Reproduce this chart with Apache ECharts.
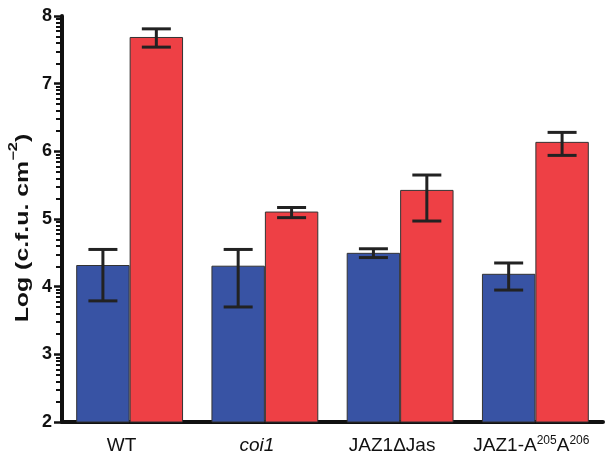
<!DOCTYPE html>
<html>
<head>
<meta charset="utf-8">
<script src="https://cdn.jsdelivr.net/npm/echarts@6/dist/echarts.min.js"></script>
<style>html,body{margin:0;padding:0;background:#fff}#c{width:606px;height:456px}</style>
</head>
<body>
<div id="c"></div>
<script>
// ---- data ----
var categories = ['WT', 'coi1', 'JAZ1\u0394Jas', 'JAZ1-A205A206'];
var mockValues = [4.32, 4.31, 4.50, 4.19];
var mockLow    = [3.79, 3.70, 4.43, 3.95];
var mockHigh   = [4.55, 4.55, 4.56, 4.35];
var infValues  = [7.69, 5.11, 5.43, 6.14];
var infLow     = [7.54, 5.02, 4.97, 5.94];
var infHigh    = [7.81, 5.17, 5.65, 6.28];
var majorTicks = [2, 3, 4, 5, 6, 7, 8];
var minorMultipliers = [2, 3, 4, 5, 6, 7, 8, 9];

var minorTicks = [];
for (var d = 2; d < 8; d++) {
  minorMultipliers.forEach(function (k) { minorTicks.push(d + Math.log10(k)); });
}

var errData = [];
categories.forEach(function (c, i) {
  errData.push([i, mockLow[i], mockHigh[i], 0]);
  errData.push([i, infLow[i], infHigh[i], 1]);
});

var FF = 'Liberation Sans, Arial, sans-serif';
var chart = echarts.init(document.getElementById('c'), null, {renderer: 'canvas'});
var catGap = 0.21;

chart.setOption({
  animation: false,
  grid: {left: 62, right: 3, top: 16, bottom: 34, containLabel: false},
  graphic: [{
    type: 'text',
    x: 20, y: 228,
    rotation: Math.PI / 2,
    scaleX: 1.38,
    style: {
      text: '{m|Log (c.f.u. cm}{s|\u22122}{m|)}',
      font: 'bold 18px ' + FF,
      fill: '#111',
      align: 'center',
      verticalAlign: 'middle',
      rich: {
        m: {fontSize: 18, fontWeight: 'bold', fontFamily: FF, fill: '#111', verticalAlign: 'bottom', lineHeight: 24},
        s: {fontSize: 12, fontWeight: 'bold', fontFamily: FF, fill: '#111', verticalAlign: 'top', lineHeight: 12}
      }
    }
  }],
  xAxis: {
    type: 'category',
    data: categories,
    axisLine: {lineStyle: {color: '#111', width: 4}},
    axisTick: {show: false},
    axisLabel: {
      interval: 0,
      margin: 13,
      color: '#111',
      fontFamily: FF,
      fontSize: 19,
      formatter: function (v) {
        if (v === 'WT') return '{n|WT}{p|}';
        if (v === 'coi1') return '{i|coi1}{p|}';
        if (v === 'JAZ1-A205A206') return '{n|JAZ1-A}{s|205}{n|A}{s|206}{q|}';
        return '{n|' + v + '}{p|}';
      },
      rich: {
        n: {fontSize: 19, fontFamily: FF, color: '#111', lineHeight: 20, verticalAlign: 'bottom'},
        i: {fontSize: 19, fontStyle: 'italic', fontFamily: FF, color: '#111', lineHeight: 20, verticalAlign: 'bottom'},
        s: {fontSize: 12, fontFamily: FF, color: '#111', lineHeight: 12, verticalAlign: 'top'},
        p: {width: 16, fontSize: 1},
        q: {width: 8, fontSize: 1}
      }
    }
  },
  yAxis: [{
    type: 'value',
    min: 2, max: 8, interval: 1,
    axisLine: {show: true, lineStyle: {color: '#111', width: 4}},
    axisTick: {show: true, length: 8, customValues: majorTicks, lineStyle: {color: '#111', width: 2.5}},
    axisLabel: {
      margin: 10, fontSize: 18, fontWeight: 'bold', color: '#111',
      fontFamily: FF,
      customValues: majorTicks
    },
    splitLine: {show: false}
  }, {
    type: 'value',
    min: 2, max: 8, interval: 1,
    position: 'left',
    offset: 0,
    axisLine: {show: false},
    axisTick: {show: true, length: 6, customValues: minorTicks, lineStyle: {color: '#111', width: 2}},
    axisLabel: {show: false},
    splitLine: {show: false}
  }],
  series: [{
    type: 'bar',
    data: mockValues,
    barGap: '0%',
    barCategoryGap: (catGap * 100) + '%',
    itemStyle: {color: '#3853A4', borderColor: '#333', borderWidth: 1}
  }, {
    type: 'bar',
    data: infValues,
    itemStyle: {color: '#EE4045', borderColor: '#333', borderWidth: 1}
  }, {
    type: 'custom',
    data: errData,
    encode: {x: 0, y: [1, 2]},
    z: 10,
    renderItem: function (params, api) {
      var ci = api.value(0), lo = api.value(1), hi = api.value(2), s = api.value(3);
      var catW = api.size([1, 0])[0];
      var bw = catW * (1 - catGap) / 2;
      var pLo = api.coord([ci, lo]);
      var pHi = api.coord([ci, hi]);
      var x = pLo[0] + (s === 0 ? -bw / 2 : bw / 2);
      var cap = 14.5;
      var st = {stroke: '#222', lineWidth: 3, fill: null};
      return {
        type: 'group',
        children: [
          {type: 'line', shape: {x1: x, y1: pLo[1], x2: x, y2: pHi[1]}, style: st},
          {type: 'line', shape: {x1: x - cap, y1: pLo[1], x2: x + cap, y2: pLo[1]}, style: st},
          {type: 'line', shape: {x1: x - cap, y1: pHi[1], x2: x + cap, y2: pHi[1]}, style: st}
        ]
      };
    }
  }]
});
</script>
</body>
</html>
